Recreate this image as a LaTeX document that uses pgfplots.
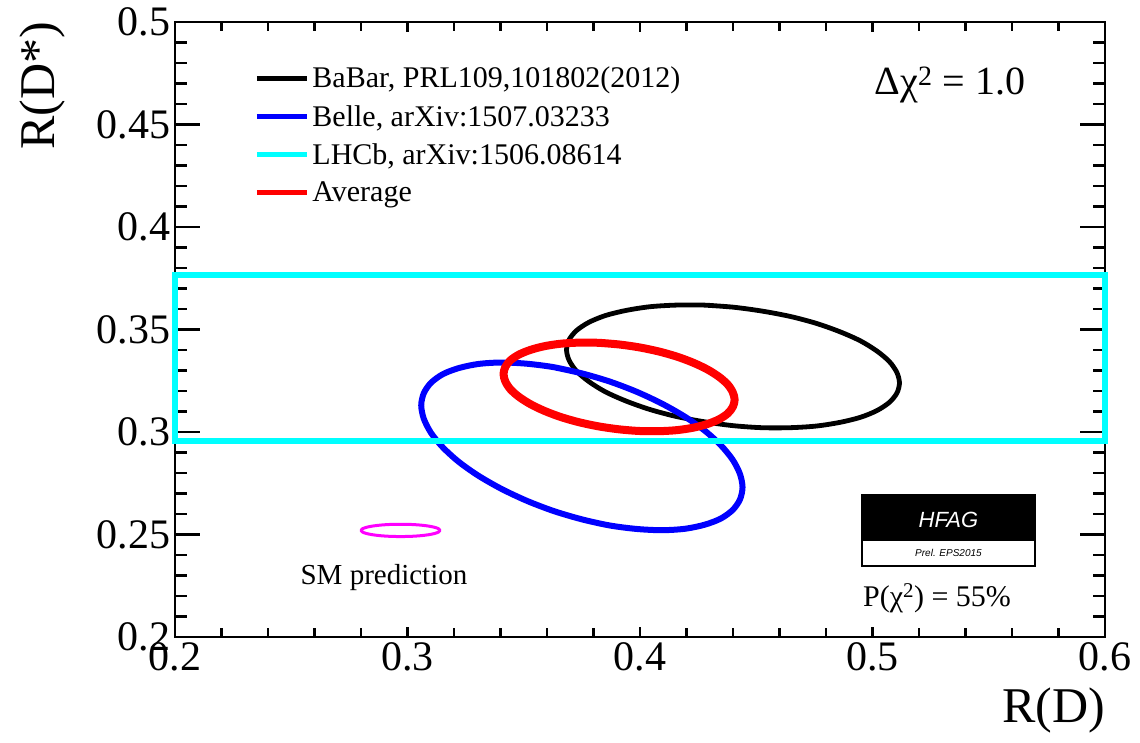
\documentclass[border=0pt]{standalone}
\usepackage{pgfplots}
\pgfplotsset{compat=1.18}
\usepackage{fontspec}
\setmainfont{Liberation Serif}
\newfontfamily\hfagfont{Liberation Sans}
\definecolor{rootcyan}{RGB}{0,255,255}
\definecolor{rootblue}{RGB}{0,0,255}
\definecolor{rootred}{RGB}{255,0,0}
\definecolor{rootmag}{RGB}{255,0,255}
\begin{document}
\begin{tikzpicture}
\begin{axis}[
  width=930bp, height=615bp, scale only axis,
  xmin=0.2, xmax=0.6, ymin=0.2, ymax=0.5,
  xtick={0.2,0.3,0.4,0.5,0.6},
  ytick={0.2,0.25,0.3,0.35,0.4,0.45,0.5},
  xticklabels={0.2,0.3,0.4,0.5,0.6},
  yticklabels={0.2,0.25,0.3,0.35,0.4,0.45,0.5},
  minor x tick num=4, minor y tick num=4,
  tick align=inside, tick pos=both,
  major x tick style={/pgfplots/major tick length=10bp},
  minor x tick style={/pgfplots/minor tick length=9bp},
  major y tick style={/pgfplots/major tick length=25bp},
  minor y tick style={/pgfplots/minor tick length=12bp},
  tick style={line width=2.2bp, black},
  axis line style={line width=2.8bp},
  ticklabel style={font=\fontsize{42bp}{42bp}\selectfont},
  yticklabel style={xshift=-1bp},
  xticklabel style={yshift=-2bp},
  xlabel={R(D)}, ylabel={R(D*)},
  xlabel style={at={(rel axis cs:1,-0.082)}, anchor=north east, font=\fontsize{50bp}{50bp}\selectfont, inner sep=0pt},
  ylabel style={at={(rel axis cs:-0.118,1)}, anchor=south east, font=\fontsize{50bp}{50bp}\selectfont, inner sep=0pt},
  clip=false,
  legend style={at={(rel axis cs:0.082,0.935)}, anchor=north west, draw=none, fill=none,
    font=\fontsize{30bp}{30bp}\selectfont, row sep=10bp,
    nodes={inner sep=3bp}},
  legend cell align=left,
  legend image code/.code={\draw[#1, line width=5bp] (0bp,0bp) -- (50bp,0bp);},
]
% BaBar
\addplot[black, line width=4.8bp, smooth, line join=round] coordinates {
(0.4400,0.3609) (0.4276,0.3619) (0.4155,0.3619) (0.4042,0.3611) (0.3940,0.3593) (0.3851,0.3568) (0.3780,0.3535) (0.3727,0.3495) (0.3695,0.3450) (0.3684,0.3401) (0.3695,0.3350) (0.3727,0.3297) (0.3780,0.3246) (0.3851,0.3196) (0.3940,0.3151) (0.4042,0.3110) (0.4155,0.3076) (0.4276,0.3050) (0.4400,0.3031) (0.4524,0.3021) (0.4645,0.3021) (0.4758,0.3029) (0.4860,0.3047) (0.4949,0.3072) (0.5020,0.3105) (0.5073,0.3145) (0.5105,0.3190) (0.5116,0.3239) (0.5105,0.3290) (0.5073,0.3343) (0.5020,0.3394) (0.4949,0.3444) (0.4860,0.3489) (0.4758,0.3530) (0.4645,0.3564) (0.4524,0.3590) (0.4400,0.3609) (0.4276,0.3619)
};
\addlegendentry{BaBar, PRL109,101802(2012)}
% Belle
\addplot[rootblue, line width=6bp, smooth, line join=round] coordinates {
(0.3750,0.3286) (0.3630,0.3316) (0.3514,0.3333) (0.3405,0.3339) (0.3306,0.3332) (0.3221,0.3312) (0.3152,0.3282) (0.3101,0.3240) (0.3070,0.3189) (0.3059,0.3130) (0.3070,0.3065) (0.3101,0.2996) (0.3152,0.2925) (0.3221,0.2854) (0.3306,0.2786) (0.3405,0.2722) (0.3514,0.2664) (0.3630,0.2614) (0.3750,0.2574) (0.3870,0.2544) (0.3986,0.2527) (0.4095,0.2521) (0.4194,0.2528) (0.4279,0.2548) (0.4348,0.2578) (0.4399,0.2620) (0.4430,0.2671) (0.4441,0.2730) (0.4430,0.2795) (0.4399,0.2864) (0.4348,0.2935) (0.4279,0.3006) (0.4194,0.3074) (0.4095,0.3138) (0.3986,0.3196) (0.3870,0.3246) (0.3750,0.3286) (0.3630,0.3316)
};
\addlegendentry{Belle, arXiv:1507.03233}
% LHCb band
\addplot[rootcyan, line width=6bp, line join=miter] coordinates {
(0.2,0.2956) (0.6,0.2956) (0.6,0.3764) (0.2,0.3764) (0.2,0.2956) (0.6,0.2956)
};
\addlegendentry{LHCb, arXiv:1506.08614}
% Average
\addplot[rootred, line width=8bp, smooth, line join=round] coordinates {
(0.3910,0.3427) (0.3824,0.3435) (0.3740,0.3436) (0.3662,0.3431) (0.3591,0.3419) (0.3530,0.3401) (0.3480,0.3378) (0.3443,0.3350) (0.3421,0.3318) (0.3413,0.3283) (0.3421,0.3246) (0.3443,0.3208) (0.3480,0.3171) (0.3530,0.3135) (0.3591,0.3102) (0.3662,0.3072) (0.3740,0.3047) (0.3824,0.3027) (0.3910,0.3013) (0.3996,0.3005) (0.4080,0.3004) (0.4158,0.3009) (0.4229,0.3021) (0.4290,0.3039) (0.4340,0.3062) (0.4377,0.3090) (0.4399,0.3122) (0.4407,0.3157) (0.4399,0.3194) (0.4377,0.3232) (0.4340,0.3269) (0.4290,0.3305) (0.4229,0.3338) (0.4158,0.3368) (0.4080,0.3393) (0.3996,0.3413) (0.3910,0.3427) (0.3824,0.3435)
};
\addlegendentry{Average}
% SM prediction
\addplot[rootmag, line width=3bp, smooth, line join=round, forget plot] coordinates {
(0.2970,0.25500) (0.2926,0.25490) (0.2885,0.25460) (0.2850,0.25412) (0.2823,0.25350) (0.2806,0.25278) (0.2800,0.25200) (0.2806,0.25122) (0.2823,0.25050) (0.2850,0.24988) (0.2885,0.24940) (0.2926,0.24910) (0.2970,0.24900) (0.3014,0.24910) (0.3055,0.24940) (0.3090,0.24988) (0.3117,0.25050) (0.3134,0.25122) (0.3140,0.25200) (0.3134,0.25278) (0.3117,0.25350) (0.3090,0.25412) (0.3055,0.25460) (0.3014,0.25490) (0.2970,0.25500) (0.2926,0.25490)
};
% texts
\node[font=\fontsize{40bp}{40bp}\selectfont] at (rel axis cs:0.8333,0.8976) {Δχ\textsuperscript{2} = 1.0};
\node[font=\fontsize{29bp}{29bp}\selectfont] at (rel axis cs:0.2247,0.0959) {SM prediction};
\node[font=\fontsize{30bp}{30bp}\selectfont] at (rel axis cs:0.8194,0.0634) {P(χ\textsuperscript{2}) = 55\%};
% HFAG logo
\fill[black] (rel axis cs:0.7387,0.1561) rectangle (rel axis cs:0.9247,0.2309);
\draw[black, line width=1.5bp] (rel axis cs:0.7387,0.1154) rectangle (rel axis cs:0.9247,0.2309);
\node[white, font=\hfagfont\itshape\fontsize{22bp}{22bp}\selectfont] at (rel axis cs:0.8317,0.1902) {HFAG};
\node[font=\hfagfont\itshape\fontsize{10bp}{10bp}\selectfont] at (rel axis cs:0.8317,0.1360) {Prel. EPS2015};
\end{axis}
\path (current axis.south west) +(-175bp,-106bp) (current axis.north east) +(35bp,22bp);
\end{tikzpicture}
\end{document}
